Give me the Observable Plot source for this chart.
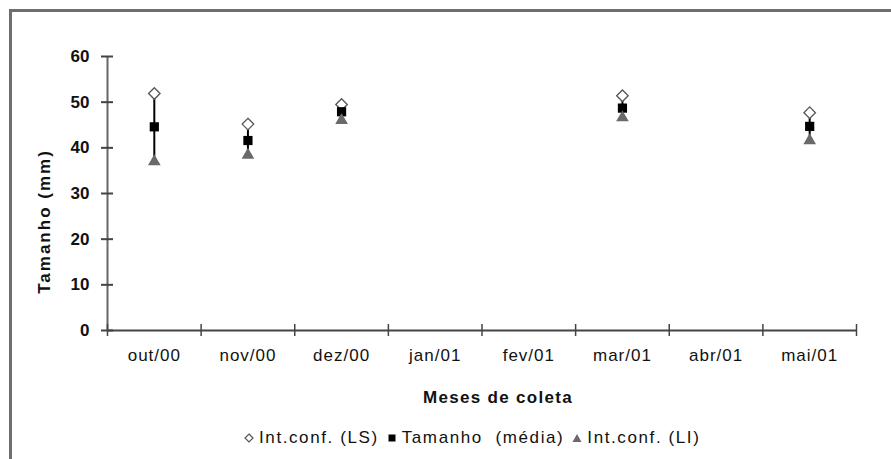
<!DOCTYPE html>
<html><head><meta charset="utf-8">
<script src="https://cdn.jsdelivr.net/npm/d3@7"></script>
<script src="https://cdn.jsdelivr.net/npm/@observablehq/plot@0.6"></script>
<style>
body{margin:0;background:#fff;}
#wrap{position:relative;width:891px;height:459px;overflow:hidden;font-family:"Liberation Sans",Arial,sans-serif;background:#fff;}
#frame{position:absolute;left:9px;top:9px;width:1000px;height:1000px;border-left:3px solid #6e6e6e;border-top:3px solid #6e6e6e;}
#chart{position:absolute;left:0;top:0;}
#legend{position:absolute;top:427px;left:244px;height:22px;font-size:17px;letter-spacing:1.6px;color:#111;line-height:20px;display:flex;align-items:center;white-space:pre;}
#legend .it{display:flex;align-items:center;margin-right:8px;}
#legend svg{margin-right:5px;}
</style>
</head><body>
<div id="wrap"><div id="frame"></div><div id="chart"></div>
<div id="legend"></div></div>
<script>
const months = ["out/00","nov/00","dez/00","jan/01","fev/01","mar/01","abr/01","mai/01"];
const lsValues = [51.9, 45.2, 49.5, null, null, 51.4, null, 47.7];
const meanValues = [44.6, 41.6, 47.9, null, null, 48.7, null, 44.7];
const liValues = [37.0, 38.4, 46.0, null, null, 46.6, null, 41.6];
const yTicks = [0, 10, 20, 30, 40, 50, 60];
const seriesNames = ["Int.conf. (LS)", "Tamanho  (média)", "Int.conf. (LI)"];
const xTitle = "Meses de coleta";
const yTitle = "Tamanho (mm)";

const rows = months.map((m, i) => ({m, i, pos: i + 0.5, ls: lsValues[i], mean: meanValues[i], li: liValues[i]}))
  .filter(d => d.mean != null);
const centers = months.map((m, i) => i + 0.5);
const bounds = d3.range(months.length + 1);

const chart = Plot.plot({
  width: 891, height: 416,
  marginLeft: 107, marginRight: 35, marginTop: 56, marginBottom: 86,
  style: {fontFamily: "'Liberation Sans', Arial, sans-serif", fontSize: "15px", color: "#111", background: "transparent"},
  x: {type: "linear", domain: [0, months.length], axis: null},
  y: {domain: [0, 60], axis: null},
  marks: [
    Plot.axisX({ticks: centers, tickFormat: v => months[Math.floor(v)], tickSize: 0, tickPadding: 18, fontSize: 17, label: null}),
    Plot.axisY({ticks: yTicks, tickSize: 0, tickPadding: 18, fontSize: 17, fontWeight: "bold", label: null}),
    Plot.ruleY([0], {stroke: "#444", strokeWidth: 2}),
    Plot.ruleX([0], {y1: 0, y2: 60, stroke: "#666", strokeWidth: 2}),
    Plot.ruleX(bounds, {y1: 0, y2: 0, insetTop: -6, insetBottom: -6, stroke: "#444", strokeWidth: 1.5}),
    Plot.ruleY(yTicks, {x1: 0, x2: 0, insetLeft: -6, insetRight: -6, stroke: "#444", strokeWidth: 2}),
    Plot.ruleX(rows, {x: "pos", y1: "li", y2: "ls", stroke: "#000", strokeWidth: 2}),
    Plot.dot(rows, {x: "pos", y: "ls", symbol: "diamond2", r: 5.2, stroke: "#555", fill: "#fff", strokeWidth: 1.3}),
    Plot.dot(rows, {x: "pos", y: "mean", symbol: "square", r: 5.2, fill: "#000", stroke: null}),
    Plot.dot(rows, {x: "pos", y: "li", symbol: "triangle", r: 4.7, fill: "#6a6a6a", stroke: null}),
    Plot.text([yTitle], {text: d => d, frameAnchor: "left", rotate: -90, dx: -63, dy: 28, textAnchor: "middle", fontWeight: "bold", fontSize: 17}),
    Plot.text([xTitle], {text: d => d, frameAnchor: "bottom", dx: 16, dy: 72, textAnchor: "middle", fontWeight: "bold", fontSize: 17})
  ]
});
document.getElementById("chart").appendChild(chart);

// letter spacing tweaks for the stretched look of the original
const sel = d3.select(chart).selectAll("text");
sel.filter(function() { return this.textContent === yTitle; }).style("letter-spacing", "2px");
sel.filter(function() { return this.textContent === xTitle; }).style("letter-spacing", "1.3px");
sel.filter(function() { return months.includes(this.textContent); }).style("letter-spacing", "1px");

// legend
const legend = d3.select("#legend");
const sym = [
  s => s.append("path").attr("d", "M5,1 L9,5 L5,9 L1,5 Z").attr("fill", "#fff").attr("stroke", "#555").attr("stroke-width", 1.2),
  s => s.append("rect").attr("x", 1.5).attr("y", 1.5).attr("width", 7).attr("height", 7).attr("fill", "#000"),
  s => s.append("path").attr("d", "M5,1 L9.5,9 L0.5,9 Z").attr("fill", "#6a6a6a")
];
seriesNames.forEach((name, k) => {
  const it = legend.append("div").attr("class", "it");
  const s = it.append("svg").attr("width", 10).attr("height", 10);
  sym[k](s);
  it.append("span").text(name);
});
</script>
</body></html>
